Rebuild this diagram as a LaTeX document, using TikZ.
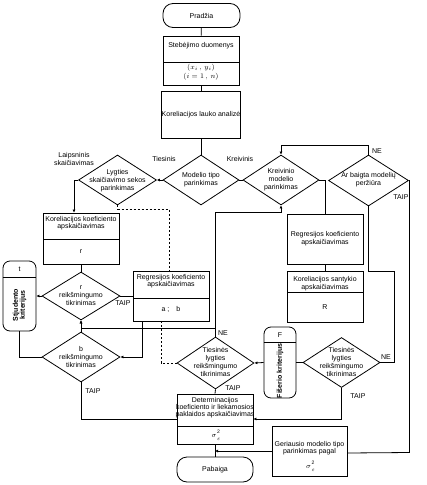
\documentclass[tikz,border=0pt]{standalone}
\usepackage{fontspec}
\setmainfont{Liberation Sans}
\usetikzlibrary{shapes.geometric,arrows.meta}
\newcommand{\dfont}{\fontsize{7}{8}\selectfont}
\newcommand{\tfont}{\fontsize{7}{7}\selectfont}
\newcommand{\sfont}{\fontsize{7}{6.5}\selectfont}
\newcommand{\sigmae}{$\sigma$\kern0.6pt\raisebox{-3pt}{\fontsize{5}{5}\selectfont\shortstack[l]{2\\[1.5pt]$\varepsilon$}}}
\begin{document}
\begin{tikzpicture}[x=1pt,y=-1pt,
  box/.style={draw, line width=0.8pt, rectangle, inner sep=0pt, align=center, font=\dfont},
  dia/.style={draw, line width=0.8pt, diamond, inner sep=0pt},
  txt/.style={align=center, font=\dfont, inner sep=0pt},
  lbl/.style={font=\dfont, inner sep=0pt},
  ln/.style={line width=0.8pt},
  arr/.style={line width=0.8pt, -{Latex[length=3pt,width=3pt]}},
  dsh/.style={line width=0.8pt, dash pattern=on 2pt off 2pt}]
\useasboundingbox (0,0) rectangle (427,485);
% --- main column
\node[box, rounded corners=10pt, minimum width=77pt, minimum height=24pt] (start) at (201.5,15.5) {Pradžia};
\node[box, minimum width=76pt, minimum height=26pt] (stebA) at (201,49) {};
\node[txt] (stebAt) at (201,46) {Stebėjimo duomenys};
\node[box, minimum width=76pt, minimum height=23pt] (stebB) at (201,73.5) {};
\node[txt] (stebBt) at (201,72) {$(x_i\,,\,y_i)$\\[1pt]$(i=1\,,\,n)$};
\node[box, minimum width=76pt, minimum height=47pt] (korl) at (201,114.5) {Koreliacijos lauko analizė};
% --- decision row
\node[dia, minimum width=76pt, minimum height=50pt] (mod) at (201,180) {};
\node[txt] (modt) at (201,180) {Modelio tipo\\parinkimas};
\node[dia, minimum width=78pt, minimum height=50pt] (lyg) at (117.5,180) {};
\node[txt] (lygt) at (117.5,180.5) {Lygties\\skaičiavimo sekos\\parinkimas};
\node[dia, minimum width=76pt, minimum height=50pt] (kre) at (281,180) {};
\node[txt] (kret) at (281,180) {Kreivinio\\modelio\\parinkimas};
\node[dia, minimum width=80pt, minimum height=51pt] (ar) at (368.5,180.5) {};
\node[txt] (art) at (368.5,179.5) {Ar baigta modelių\\peržiūra};
% --- left branch
\node[box, minimum width=76pt, minimum height=26pt] (kkA) at (81,226) {};
\node[txt, font=\tfont] (kkAt) at (81,223.5) {Koreliacijos koeficiento\\apskaičiavimas};
\node[box, minimum width=76pt, minimum height=25pt] (kkB) at (81,251.5) {r};
\node[dia, minimum width=78pt, minimum height=48pt] (rdia) at (81,296) {};
\node[txt] (rdiat) at (81,296) {r\\reikšmingumo\\tikrinimas};
\node[dia, minimum width=78pt, minimum height=50pt] (bdia) at (81,357) {};
\node[txt] (bdiat) at (81,357) {b\\reikšmingumo\\tikrinimas};
\node[box, rounded corners=7pt, minimum width=33pt, minimum height=70pt] (stj) at (19.5,296) {};
\draw[ln] ([yshift=-17pt]stj.north west) -- ([yshift=-17pt]stj.north east);
\node[txt] (stjt) at (19.5,269.5) {t};
\node[txt, rotate=90, font=\bfseries\tfont] (stjk) at (19.5,305) {Stjudento\\kriterijus};
\node[box, minimum width=76pt, minimum height=27pt] (rgA) at (171,284.5) {};
\node[txt, font=\tfont] (rgAt) at (171,281.5) {Regresijos koeficiento\\apskaičiavimas};
\node[box, minimum width=76pt, minimum height=23pt] (rgB) at (171,309.5) {a ;\quad b};
% --- right branch
\node[box, minimum width=76pt, minimum height=50pt] (rg2) at (325,239) {Regresijos koeficiento\\apskaičiavimas};
\node[box, minimum width=76pt, minimum height=21pt] (ksA) at (325,281.5) {};
\node[txt] (ksAt) at (325,284) {Koreliacijos santykio\\apskaičiavimas};
\node[box, minimum width=76pt, minimum height=30pt] (ksB) at (325,307) {R};
% --- significance tests
\node[dia, minimum width=77pt, minimum height=52pt] (t1) at (215.5,363) {};
\node[txt] (t1t) at (215.5,362) {Tiesinės\\lygties\\reikšmingumo\\tikrinimas};
\node[box, rounded corners=7pt, minimum width=32pt, minimum height=71pt] (fis) at (280,362.5) {};
\draw[ln] ([yshift=-16pt]fis.north west) -- ([yshift=-16pt]fis.north east);
\node[txt] (fist) at (280,335) {F};
\node[txt, rotate=90, font=\bfseries\tfont] (fisk) at (280,371) {Fišerio kriterijus};
\node[dia, minimum width=77pt, minimum height=50pt] (t2) at (341.5,362.5) {};
\node[txt] (t2t) at (341.5,362) {Tiesinės\\lygties\\reikšmingumo\\tikrinimas};
% --- bottom
\node[box, minimum width=76pt, minimum height=32pt] (dtA) at (215,410) {};
\node[txt, font=\sfont] (dtAt) at (215,407.5) {Determinacijos\\koeficiento ir liekamosios\\paklaidos apskaičiavimas};
\node[box, minimum width=76pt, minimum height=18pt] (dtB) at (215,435) {};
\node[txt] (dtBt) at (216,435) {\sigmae};
\node[box, rounded corners=10pt, minimum width=76pt, minimum height=25pt] (end) at (215,469.5) {Pabaiga};
\node[box, minimum width=75pt, minimum height=50pt] (ger) at (309.5,451) {};
\node[txt, font=\sfont] (gert) at (309.5,448) {Geriausio modelio tipo\\parinkimas pagal};
\node[txt] (gers) at (310.5,466) {\sigmae};
% --- labels
\node[lbl] (l1) at (164,159) {Tiesinis};
\node[lbl] (l2) at (240,159) {Kreivinis};
\node[lbl, align=center] (l3) at (74,159) {Laipsninis\\skaičiavimas};
\node[lbl] (l4) at (377,151) {NE};
\node[lbl] (l5) at (401,197) {TAIP};
\node[lbl] (l6) at (123,303) {TAIP};
\node[lbl] (l7) at (223,333) {NE};
\node[lbl] (l8) at (386,357) {NE};
\node[lbl] (l9) at (233,388) {TAIP};
\node[lbl] (l10) at (358,396) {TAIP};
\node[lbl] (l11) at (93,391) {TAIP};
% --- connectors
\draw[ln] (start) -- (stebA);
\draw[ln] (stebB) -- (korl);
\draw[ln] (korl) -- (mod);
\draw[arr] (mod.west) -- (lyg.east);
\draw[ln] (mod.east) -- (kre.west);
\draw[arr] (lyg.west) -| ([xshift=-7pt]kkA.north);
\draw[dsh] (lyg.south) -- ++(0,4) -| ([xshift=-2pt]rgA.north);
\draw[ln] (kkB) -- (rdia);
\draw[ln] (rdia.east) -- ([yshift=-11.5pt]rgA.west);
\draw[arr] (rdia.west) -- (stj.east);
\draw[ln] (stj.south) |- (bdia.west);
\draw[arr] (bdia.north) -- (rdia.south);
\draw[arr] (t1.north) -- ++(0,-124) -| (kre.south);
\draw[arr] ([yshift=8pt]t1.north) -| (rdia.south);
\draw[arr] ([xshift=-29pt]rgB.south) |- (bdia.east);
\draw[dsh] ([xshift=-10pt]rgB.south) |- (t1.west);
\draw[ln] (kre.east) -| (rg2.north);
\draw[ln] (rg2) -- (ksA);
\draw[arr] (ar.north) -- ++(0,-9) -| (kre.north);
\draw[ln] (ar.east) -| ++(0.5,272) -- (ger.east |- 0,453);
\draw[ln] (t2.east) -- ++(14,0) |- ([yshift=-65pt]ar.south) -- (ar.south);
\draw[arr] (fis.west) -- (t1.east);
\draw[ln] (fis.east) -- (t2.west);
\draw[ln] (t1.south) -- (dtA.north);
\draw[arr] (t2.south) |- ([yshift=-9pt]dtA.east);
\draw[ln] (bdia.south) |- ([yshift=-9pt]dtA.west);
\draw[ln] (dtB) -- (end);
\draw[arr] (ger.west) -- (ger.west -| end.north);
\end{tikzpicture}
\end{document}
